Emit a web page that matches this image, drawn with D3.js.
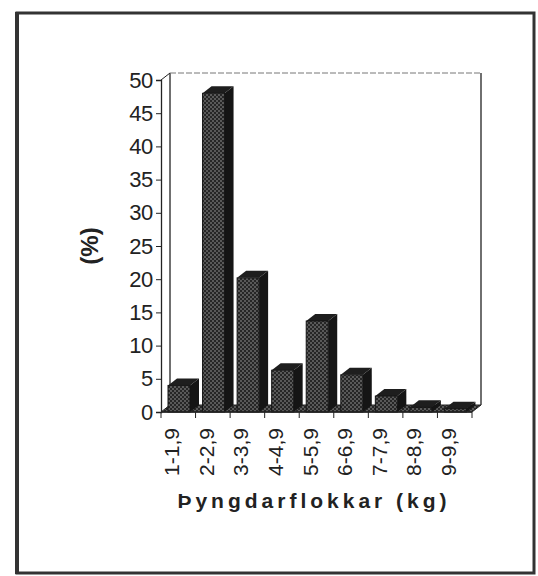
<!DOCTYPE html>
<html><head><meta charset="utf-8">
<script src="https://cdn.jsdelivr.net/npm/d3@7"></script>
<style>body{margin:0;background:#fff}svg{display:block}</style>
</head><body>
<svg id="c" width="538" height="576"></svg>
<script>
const categories=["1-1,9","2-2,9","3-3,9","4-4,9","5-5,9","6-6,9","7-7,9","8-8,9","9-9,9"];
const values=[4,48,20.2,6.3,13.7,5.6,2.4,0.7,0.5];
const yTicks=[0,5,10,15,20,25,30,35,40,45,50];
const xTitle="Þyngdarflokkar (kg)";
const yTitle="(%)";

const svg=d3.select("#c");
const defs=svg.append("defs");
const pat=defs.append("pattern").attr("id","dots").attr("patternUnits","userSpaceOnUse").attr("width",4).attr("height",4);
pat.append("rect").attr("width",4).attr("height",4).attr("fill","#262626");
pat.append("circle").attr("cx",1).attr("cy",1).attr("r",0.8).attr("fill","#9a9a9a");
pat.append("circle").attr("cx",3).attr("cy",3).attr("r",0.8).attr("fill","#9a9a9a");

svg.append("rect").attr("width",538).attr("height",576).attr("fill","#fff");
// frame
svg.append("rect").attr("x",17).attr("y",13).attr("width",517).attr("height",560)
  .attr("fill","none").attr("stroke","#333").attr("stroke-width",3);
svg.append("line").attr("x1",17).attr("x2",17).attr("y1",12).attr("y2",574).attr("stroke","#333").attr("stroke-width",4);

const x=d3.scaleBand().domain(categories).range([161,472]).padding(0);
const y=d3.scaleLinear().domain([0,50]).range([412,80]);
const dx=9, dy=-7;
const x0=x.range()[0], x1=x.range()[1], yb=y(0), yt=y(50);

// back wall and floor
const g=svg.append("g");
g.append("path").attr("d",`M${x0+dx},${yb+dy}L${x1+dx},${yb+dy}L${x1},${yb}L${x0},${yb}Z`)
  .attr("fill","url(#dots)").attr("stroke","#222").attr("stroke-width",1);
g.append("line").attr("x1",x0+dx).attr("y1",yt+dy).attr("x2",x0+dx).attr("y2",yb+dy).attr("stroke","#222").attr("stroke-width",1.3);
g.append("line").attr("x1",x0+dx).attr("y1",yt+dy).attr("x2",x1+dx).attr("y2",yt+dy).attr("stroke","#777").attr("stroke-width",1).attr("stroke-dasharray","6,2");
g.append("line").attr("x1",x1+dx).attr("y1",yt+dy).attr("x2",x1+dx).attr("y2",yb+dy).attr("stroke","#222").attr("stroke-width",1.3);
g.append("line").attr("x1",x0).attr("y1",yt).attr("x2",x0+dx).attr("y2",yt+dy).attr("stroke","#222").attr("stroke-width",1);

// bars
const bw=22, off=7;
const bars=svg.append("g").selectAll("g").data(categories.map((c,i)=>({c,v:values[i]}))).join("g");
bars.append("path").attr("d",d=>{const a=x(d.c)+off,b=a+bw,t=y(d.v);
  return `M${b},${t}L${b+dx},${t+dy}L${b+dx},${yb+dy}L${b},${yb}Z`;}).attr("fill","#151515");
bars.append("path").attr("d",d=>{const a=x(d.c)+off,b=a+bw,t=y(d.v);
  return `M${a},${t}L${a+dx},${t+dy}L${b+dx},${t+dy}L${b},${t}Z`;}).attr("fill","#1e1e1e");
bars.append("rect").attr("x",d=>x(d.c)+off).attr("width",bw).attr("y",d=>y(d.v)).attr("height",d=>yb-y(d.v))
  .attr("fill","url(#dots)").attr("stroke","#151515").attr("stroke-width",1);

// y axis
const ya=svg.append("g").attr("transform",`translate(${x0},0)`)
  .call(d3.axisLeft(y).tickValues(yTicks).tickSize(5).tickPadding(3));
ya.select(".domain").attr("stroke","#222").attr("stroke-width",1.3);
ya.selectAll(".tick line").attr("stroke","#222");
ya.selectAll("text").attr("font-family","'Liberation Sans',Arial,sans-serif").attr("font-size",22).attr("fill","#222").attr("letter-spacing",-0.3);

// x axis
const xa=svg.append("g");
xa.append("line").attr("x1",x0).attr("x2",x1).attr("y1",yb).attr("y2",yb).attr("stroke","#222").attr("stroke-width",1.3);
xa.selectAll("line.t").data(categories.concat(["_end"])).join("line").attr("class","t")
  .attr("x1",d=>d==="_end"?x1:x(d)).attr("x2",d=>d==="_end"?x1:x(d)).attr("y1",yb).attr("y2",yb+6).attr("stroke","#222");
xa.selectAll("text").data(categories).join("text")
  .attr("transform",d=>`translate(${x(d)+11},428) rotate(-90)`)
  .attr("text-anchor","end").attr("dy","0.35em")
  .attr("font-family","'Liberation Sans',Arial,sans-serif").attr("font-size",21).attr("fill","#222")
  .text(d=>d);

// titles
svg.append("text").attr("x",314).attr("y",508).attr("text-anchor","middle")
  .attr("font-family","'Liberation Sans',Arial,sans-serif").attr("font-weight","bold").attr("font-size",21)
  .attr("letter-spacing",4).attr("fill","#222").text(xTitle);
svg.append("text").attr("transform","translate(90,246) rotate(-90)").attr("text-anchor","middle").attr("dy","0.35em")
  .attr("font-family","'Liberation Sans',Arial,sans-serif").attr("font-weight","bold").attr("font-size",24)
  .attr("fill","#222").text(yTitle);
</script>
</body></html>
